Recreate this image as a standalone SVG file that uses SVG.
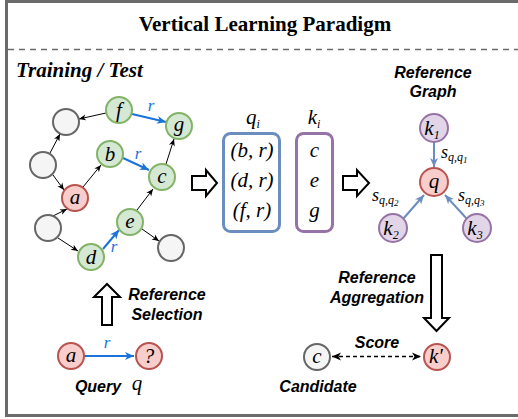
<svg xmlns="http://www.w3.org/2000/svg" width="518" height="419" viewBox="0 0 518 419">
<style>
.frame{fill:#fff;stroke:#6b6b6b;stroke-width:3}
.title{font-family:"Liberation Serif",serif;font-weight:bold;font-size:21px;fill:#000}
.sec{font-family:"Liberation Serif",serif;font-weight:bold;font-style:italic;font-size:21px;fill:#000}
.lbl{font-family:"Liberation Sans",Arial,sans-serif;font-weight:bold;font-style:italic;font-size:16px;fill:#000}
.m{font-family:"Liberation Serif",serif;font-style:italic;font-size:21px;fill:#000}
.ms{font-family:"Liberation Serif",serif;font-style:italic;font-size:18px;fill:#000}
.mr{font-family:"Liberation Serif",serif;font-style:italic;font-size:17px;fill:#1a73d9}
.sub{font-size:12px}
.green{fill:#d5e8d4;stroke:#82b366;stroke-width:2}
.red{fill:#f8cecc;stroke:#b85450;stroke-width:2}
.gray{fill:#f5f5f5;stroke:#666;stroke-width:2}
.purple{fill:#e1d5e7;stroke:#9673a6;stroke-width:2}
.e{stroke:#000;stroke-width:1;fill:none;marker-end:url(#ab)}
.eb{stroke:#1a73d9;stroke-width:2;fill:none;marker-end:url(#abl)}
.el{stroke:#6c8ebf;stroke-width:2;fill:none;marker-end:url(#alb)}
.hollow{fill:#fff;stroke:#000;stroke-width:2;stroke-linejoin:miter}
</style>
<defs>
<marker id="ab" markerWidth="8" markerHeight="8" refX="7" refY="4" orient="auto" markerUnits="userSpaceOnUse"><path d="M0,1 L7,4 L0,7 L2,4 Z" fill="#000"/></marker>
<marker id="abl" markerWidth="10" markerHeight="10" refX="9" refY="5" orient="auto" markerUnits="userSpaceOnUse"><path d="M0,1 L9,5 L0,9 L2.5,5 Z" fill="#1a73d9"/></marker>
<marker id="alb" markerWidth="10" markerHeight="10" refX="9" refY="5" orient="auto" markerUnits="userSpaceOnUse"><path d="M0,1 L9,5 L0,9 L2.5,5 Z" fill="#6c8ebf"/></marker>
<marker id="ak" markerWidth="10" markerHeight="10" refX="9" refY="5" orient="auto-start-reverse" markerUnits="userSpaceOnUse"><path d="M0,1 L9,5 L0,9 L2.5,5 Z" fill="#000"/></marker>
</defs>

<rect class="frame" x="6.5" y="1.5" width="520" height="414"/>
<text class="title" x="265" y="31" text-anchor="middle">Vertical Learning Paradigm</text>
<line x1="8" y1="49.5" x2="518" y2="49.5" stroke="#6b6b6b" stroke-width="1.5" stroke-dasharray="6,5"/>
<text class="sec" x="16" y="77">Training / Test</text>

<g id="connectors">
<line class="e" x1="106" y1="113" x2="79" y2="119"/>
<line class="e" x1="50" y1="153" x2="60" y2="134"/>
<line class="e" x1="53" y1="175" x2="64" y2="190"/>
<line class="e" x1="83" y1="187" x2="101" y2="165"/>
<line class="e" x1="53" y1="216" x2="67" y2="209"/>
<line class="e" x1="58" y1="238" x2="78" y2="251"/>
<line class="e" x1="137" y1="210" x2="153" y2="189"/>
<line class="e" x1="166" y1="164" x2="174" y2="139"/>
<line class="e" x1="142" y1="229" x2="159" y2="241"/>
<line class="eb" x1="132" y1="114" x2="166" y2="122"/>
<line class="eb" x1="123" y1="158" x2="149" y2="170"/>
<line class="eb" x1="103" y1="249" x2="119" y2="230"/>
<text class="mr" x="151" y="111" text-anchor="middle">r</text>
<text class="mr" x="138" y="159" text-anchor="middle">r</text>
<text class="mr" x="114" y="252" text-anchor="middle">r</text>

<line class="el" x1="434" y1="142" x2="434" y2="167"/>
<line class="el" x1="403" y1="219" x2="424" y2="195"/>
<line class="el" x1="467" y1="219" x2="445" y2="195"/>

<line class="eb" x1="84" y1="356" x2="134" y2="356"/>
<text class="mr" x="107" y="348" text-anchor="middle">r</text>

<line x1="332" y1="356.5" x2="421" y2="356.5" stroke="#000" stroke-width="1.5" stroke-dasharray="4,3" marker-start="url(#ak)" marker-end="url(#ak)"/>

<path class="hollow" d="M192,176 L206,176 L206,170 L217,183 L206,196 L206,190 L192,190 Z"/>
<path class="hollow" d="M343,176 L357,176 L357,170 L369,183 L357,196 L357,190 L343,190 Z"/>
<path class="hollow" d="M102,325 L102,297 L94,297 L107,284 L120,297 L112,297 L112,325 Z"/>
<path class="hollow" d="M431,255 L442,255 L442,318 L449,318 L436.5,331 L424,318 L431,318 Z"/>
</g>

<g id="node-f"><circle class="green" cx="119" cy="110" r="13"/><text class="m" x="119" y="117" text-anchor="middle">f</text></g>
<g id="node-g1"><circle class="gray" cx="66" cy="122" r="13"/></g>
<g id="node-g"><circle class="green" cx="179" cy="126" r="13"/><text class="m" x="179" y="131" text-anchor="middle">g</text></g>
<g id="node-b"><circle class="green" cx="110" cy="154" r="13"/><text class="m" x="110" y="161" text-anchor="middle">b</text></g>
<g id="node-g2"><circle class="gray" cx="43" cy="165" r="13"/></g>
<g id="node-c"><circle class="green" cx="162" cy="177" r="13"/><text class="m" x="162" y="183" text-anchor="middle">c</text></g>
<g id="node-a"><circle class="red" cx="75" cy="198" r="13"/><text class="m" x="75" y="204" text-anchor="middle">a</text></g>
<g id="node-e"><circle class="green" cx="130" cy="222" r="13"/><text class="m" x="130" y="228" text-anchor="middle">e</text></g>
<g id="node-g3"><circle class="gray" cx="48" cy="228" r="13"/></g>
<g id="node-d"><circle class="green" cx="91" cy="257" r="13"/><text class="m" x="91" y="264" text-anchor="middle">d</text></g>
<g id="node-g4"><circle class="gray" cx="171" cy="248" r="13"/></g>

<g id="qi-box">
<text class="m" x="253" y="124" text-anchor="middle">q<tspan class="sub" dy="4">i</tspan></text>
<rect x="223.5" y="133.5" width="56" height="98" rx="7" fill="none" stroke="#6c8ebf" stroke-width="3"/>
<text class="m" x="252" y="157" text-anchor="middle" font-style="normal">(<tspan font-style="italic">b</tspan>, <tspan font-style="italic">r</tspan>)</text>
<text class="m" x="252" y="187" text-anchor="middle" font-style="normal">(<tspan font-style="italic">d</tspan>, <tspan font-style="italic">r</tspan>)</text>
<text class="m" x="252" y="217" text-anchor="middle" font-style="normal">(<tspan font-style="italic">f</tspan>, <tspan font-style="italic">r</tspan>)</text>
</g>
<g id="ki-box">
<text class="m" x="314" y="124" text-anchor="middle">k<tspan class="sub" dy="4">i</tspan></text>
<rect x="296.5" y="133.5" width="36" height="98" rx="7" fill="none" stroke="#9673a6" stroke-width="3"/>
<text class="m" x="314.5" y="157" text-anchor="middle">c</text>
<text class="m" x="314.5" y="187" text-anchor="middle">e</text>
<text class="m" x="314.5" y="217" text-anchor="middle">g</text>
</g>

<text class="lbl" x="433" y="78" text-anchor="middle">Reference</text>
<text class="lbl" x="433" y="97" text-anchor="middle">Graph</text>
<g id="node-k1"><circle class="purple" cx="434" cy="128" r="14"/><text class="m" x="432" y="135" text-anchor="middle">k<tspan class="sub" dy="4">1</tspan></text></g>
<g id="node-q"><circle class="red" cx="434" cy="182" r="14"/><text class="m" x="434" y="188" text-anchor="middle">q</text></g>
<g id="node-k2"><circle class="purple" cx="393" cy="228" r="14"/><text class="m" x="391" y="235" text-anchor="middle">k<tspan class="sub" dy="4">2</tspan></text></g>
<g id="node-k3"><circle class="purple" cx="477" cy="228" r="14"/><text class="m" x="475" y="235" text-anchor="middle">k<tspan class="sub" dy="4">3</tspan></text></g>
<text class="ms" x="441" y="158">s<tspan font-size="12" dy="3">q,q</tspan><tspan font-size="9" dy="2">1</tspan></text>
<text class="ms" x="372" y="201">s<tspan font-size="12" dy="3">q,q</tspan><tspan font-size="9" dy="2">2</tspan></text>
<text class="ms" x="458" y="201">s<tspan font-size="12" dy="3">q,q</tspan><tspan font-size="9" dy="2">3</tspan></text>

<text class="lbl" x="377" y="283" text-anchor="middle">Reference</text>
<text class="lbl" x="377" y="303" text-anchor="middle">Aggregation</text>
<text class="lbl" x="377" y="348" text-anchor="middle">Score</text>
<g id="node-cand"><circle class="gray" cx="317" cy="357" r="13"/><text class="m" x="317" y="363" text-anchor="middle">c</text></g>
<g id="node-kp"><circle class="red" cx="437" cy="357" r="13"/><text class="m" x="436" y="363" text-anchor="middle">k′</text></g>
<text class="lbl" x="318" y="392" text-anchor="middle">Candidate</text>

<text class="lbl" x="167" y="300" text-anchor="middle">Reference</text>
<text class="lbl" x="167" y="320" text-anchor="middle">Selection</text>
<g id="node-qa"><circle class="red" cx="71" cy="356" r="13"/><text class="m" x="71" y="362" text-anchor="middle">a</text></g>
<g id="node-qq"><circle class="red" cx="149" cy="356" r="13"/><text class="m" x="149" y="363" text-anchor="middle" font-style="normal">?</text></g>
<text class="lbl" x="98" y="392" text-anchor="middle">Query</text>
<text class="m" x="137" y="390" text-anchor="middle">q</text>
</svg>
